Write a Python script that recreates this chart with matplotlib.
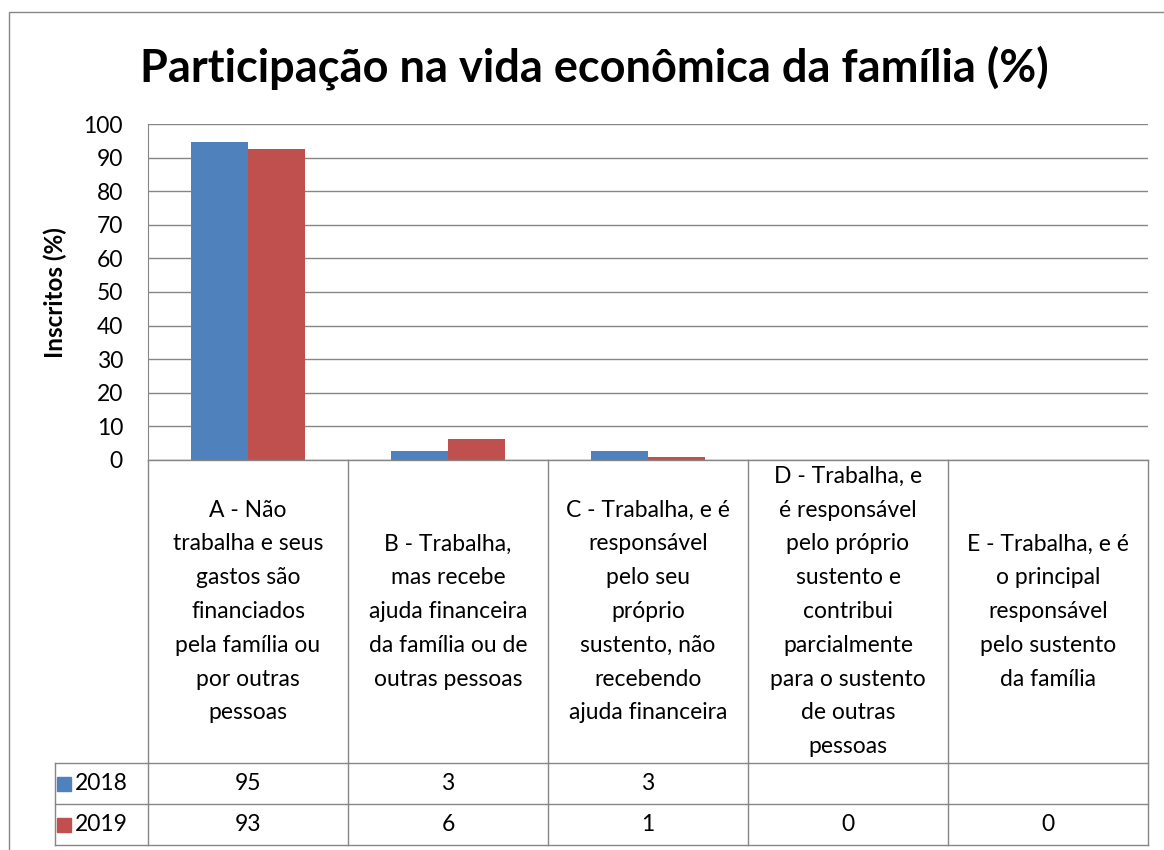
import matplotlib
matplotlib.use("Agg")
import matplotlib.pyplot as plt
from matplotlib.patches import Rectangle
import numpy as np

categorias = [
    "A - Não\ntrabalha e seus\ngastos são\nfinanciados\npela família ou\npor outras\npessoas",
    "B - Trabalha,\nmas recebe\najuda financeira\nda família ou de\noutras pessoas",
    "C - Trabalha, e é\nresponsável\npelo seu\npróprio\nsustento, não\nrecebendo\najuda financeira",
    "D - Trabalha, e\né responsável\npelo próprio\nsustento e\ncontribui\nparcialmente\npara o sustento\nde outras\npessoas",
    "E - Trabalha, e é\no principal\nresponsável\npelo sustento\nda família",
]
anos = ["2018", "2019"]
v2018 = [94.7, 2.6, 2.6, np.nan, np.nan]
v2019 = [92.6, 6.2, 0.9, 0.0, 0.0]
cores = ["#4F81BD", "#C0504D"]
titulo = "Participação na vida econômica da família (%)"
ylabel = "Inscritos (%)"

plt.rcParams['font.family'] = ['Lato', 'DejaVu Sans']
W, H = 1164, 850
grey = "#868686"
fs = 16.5

fig = plt.figure(figsize=(W / 100, H / 100), dpi=100)

# grafico de barras
ax = fig.add_axes([148 / W, (H - 460) / H, 1000 / W, 336 / H])
x = np.arange(len(categorias))
w = 0.285
ax.bar(x - w / 2, v2018, w, color=cores[0], zorder=3)
ax.bar(x + w / 2, v2019, w, color=cores[1], zorder=3)
ax.set_xlim(-0.5, 4.5)
ax.set_ylim(0, 100)
ax.set_yticks(range(0, 101, 10))
ax.yaxis.grid(True, color=grey, lw=1.0, zorder=0)
ax.set_xticks([])
for s in ["top", "right", "bottom"]:
    ax.spines[s].set_visible(False)
ax.spines["left"].set_color(grey)
ax.tick_params(axis="y", length=0, pad=18, labelsize=fs)

fig.text(594 / W, 1 - 68 / H, titulo, ha="center", va="center",
         fontsize=32.5, fontweight="bold")
fig.text(55 / W, 1 - 293 / H, ylabel, ha="center", va="center",
         rotation=90, fontsize=17.5, fontweight="bold")

# tabela de dados
tax = fig.add_axes([55 / W, 5 / H, 1093 / W, 385 / H])
left = -0.5 - 93 / 200
tax.set_xlim(left, 4.5)
tax.set_ylim(385, 0)
tax.axis("off")
rows = [0, 303, 344, 385]
kw = dict(color=grey, lw=1.0, clip_on=False)
tax.plot([-0.5, 4.5], [0, 0], **kw)
for y in rows[1:]:
    tax.plot([left, 4.5], [y, y], **kw)
for xb in np.arange(-0.5, 5, 1.0):
    tax.plot([xb, xb], [0, 385], **kw)
tax.plot([left, left], [303, 385], **kw)

for i, cat in enumerate(categorias):
    tax.text(i, 151.5, cat, ha="center", va="center", fontsize=fs,
             linespacing=1.75)
for r, (ano, vals) in enumerate(zip(anos, [v2018, v2019])):
    yc = (rows[r + 1] + rows[r + 2]) / 2
    tax.add_patch(Rectangle((left + 0.01, yc - 7), 0.068, 14,
                            color=cores[r], clip_on=False))
    tax.text(left + 0.1, yc, ano, ha="left", va="center", fontsize=fs)
    for i, v in enumerate(vals):
        if not np.isnan(v):
            tax.text(i, yc, f"{v:.0f}", ha="center", va="center", fontsize=fs)

# borda externa
fig.add_artist(Rectangle((9 / W, -0.1), 1.2, 1 - 12 / H + 0.1,
                         transform=fig.transFigure, fill=False,
                         edgecolor=grey, lw=1.0))

fig.savefig("out.png", dpi=100)
